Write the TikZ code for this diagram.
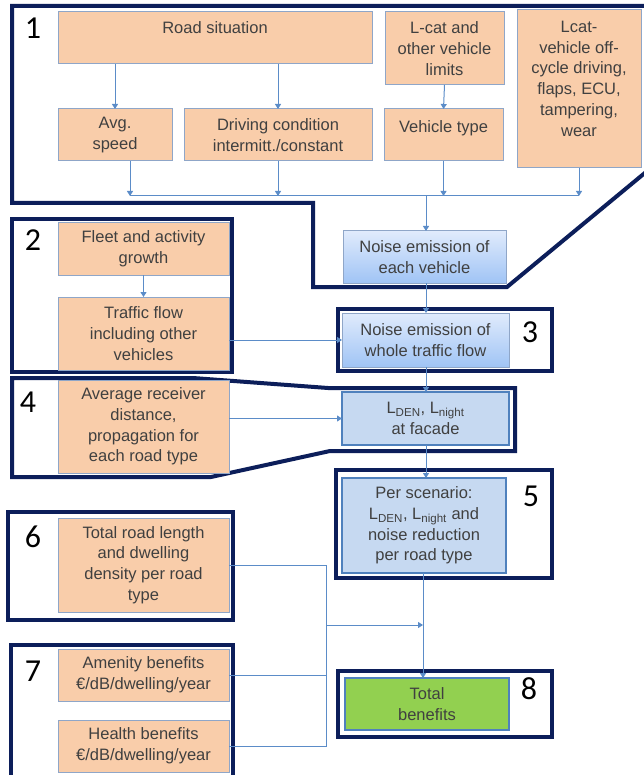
\documentclass[tikz,border=0pt]{standalone}
\usepackage{fontspec}
\setmainfont{Liberation Sans}
\newfontfamily\numfont{Carlito}
\usetikzlibrary{arrows.meta,calc}
\definecolor{ofill}{RGB}{249,205,170}
\definecolor{oborder}{RGB}{143,166,200}
\definecolor{tgray}{RGB}{64,64,64}
\definecolor{navy}{RGB}{12,30,90}
\definecolor{arrc}{RGB}{91,140,200}
\definecolor{btop}{RGB}{224,235,252}
\definecolor{bbot}{RGB}{160,196,245}
\definecolor{lblue}{RGB}{198,217,241}
\definecolor{mblue}{RGB}{79,129,189}
\definecolor{gfill}{RGB}{146,208,80}
\newcommand\bxfont{\fontsize{16.5}{20.7}\selectfont}
\newcommand\nfont{\numfont\fontsize{32}{32}\selectfont}
\begin{document}
\begin{tikzpicture}[x=1pt,y=-1pt,
  obox/.style={draw=oborder, fill=ofill, line width=1pt, inner sep=0pt, outer sep=0pt, align=center, text=tgray, font=\bxfont},
  gbox/.style={draw=oborder, top color=btop, bottom color=bbot, line width=1pt, inner sep=0pt, outer sep=0pt, align=center, text=tgray, font=\bxfont},
  lbox/.style={draw=mblue, fill=lblue, line width=2.5pt, inner sep=0pt, outer sep=0pt, align=center, text=tgray, font=\bxfont},
  grbox/.style={draw=mblue, fill=gfill, line width=2.5pt, inner sep=0pt, outer sep=0pt, align=center, text=tgray, font=\bxfont},
  txt/.style={inner sep=0pt, align=center, text=tgray, font=\bxfont},
  frame/.style={draw=navy, line width=4pt, line join=miter},
  num/.style={inner sep=0pt, font=\nfont, text=black},
  conn/.style={draw=arrc, line width=1pt},
  arr/.style={conn, -{Triangle[width=6pt,length=5pt]}}
]
\useasboundingbox (0,0) rectangle (644,775);
\fill[white] (0,0) rectangle (644,775);

% frames
\draw[frame] (12,6) -- (646,6) -- (646,172) -- (507,287) -- (313,287) -- (313,203) -- (12,203) -- cycle;
\draw[frame] (12,219) rectangle (232,372);
\draw[frame] (338,309) rectangle (552,371);
\draw[frame] (12,378) -- (193,378) -- (328,388) -- (515,388) -- (515,451) -- (330,451) -- (211,477) -- (12,477) -- cycle;
\draw[frame] (336,470) rectangle (552,578);
\draw[frame] (8,512) rectangle (233,620);
\draw[frame] (11,645) rectangle (233,790);
\draw[frame] (338,671) rectangle (552,737);

% numbers
\node[num] (n1) at (33,28) {1};
\node[num] (n2) at (33,240) {2};
\node[num] (n3) at (530,332) {3};
\node[num] (n4) at (28,402) {4};
\node[num] (n5) at (531,496) {5};
\node[num] (n6) at (33,537) {6};
\node[num] (n7) at (33,671) {7};
\node[num] (n8) at (529,689) {8};

% boxes of part 1
\node[obox, minimum width=314, minimum height=52] (rs) at (215,38) {};
\node[txt, anchor=north] (rst) at (215,21) {Road situation};
\node[obox, minimum width=119, minimum height=73] (lc) at (444.5,48.5) {L-cat and\\other vehicle\\limits};
\node[obox, minimum width=124, minimum height=158] (lo) at (579,89) {};
\node[txt, anchor=north] (lot) at (579,21) {Lcat-\\vehicle off-\\cycle driving,\\flaps, ECU,\\tampering,\\wear};
\node[obox, minimum width=114, minimum height=52] (avg) at (115,135) {Avg.\\speed};
\node[obox, minimum width=188, minimum height=52] (drv) at (278,135) {Driving condition\\intermitt./constant};
\node[obox, minimum width=119, minimum height=52] (vt) at (443.5,135) {};
\node[txt, anchor=north] (vtt) at (443.5,120) {Vehicle type};
\node[gbox, minimum width=163, minimum height=52] (nev) at (424.5,257) {Noise emission of\\each vehicle};

% part 2
\node[obox, minimum width=171, minimum height=52] (fl) at (143.5,249) {Fleet and activity\\growth};
\node[obox, minimum width=171, minimum height=73] (tf) at (143.5,333.5) {Traffic flow\\including other\\vehicles};
\node[gbox, minimum width=167, minimum height=54] (ntf) at (425.5,340) {Noise emission of\\whole traffic flow};

% part 4
\node[obox, minimum width=171, minimum height=93] (ard) at (143.5,426.5) {Average receiver\\distance,\\propagation for\\each road type};
\node[lbox, minimum width=167, minimum height=53] (ld) at (425.5,418.5) {L\textsubscript{DEN}, L\textsubscript{night}\\at facade};

% part 5
\node[lbox, minimum width=164, minimum height=95] (ps) at (424,525.5) {Per scenario:\\L\textsubscript{DEN}, L\textsubscript{night} and\\noise reduction\\per road type};

% part 6, 7
\node[obox, minimum width=171, minimum height=94] (trl) at (143.5,565) {Total road length\\and dwelling\\density per road\\type};
\node[obox, minimum width=171, minimum height=52] (am) at (143.5,675) {Amenity benefits\\€/dB/dwelling/year};
\node[obox, minimum width=171, minimum height=52] (hb) at (143.5,746) {Health benefits\\€/dB/dwelling/year};

% part 8
\node[grbox, minimum width=164, minimum height=52] (tb) at (427,704) {Total\\benefits};

% connectors part 1
\draw[arr] (rs.south -| avg.north) -- (avg.north);
\draw[arr] (rs.south -| drv.north) -- (drv.north);
\draw[arr] (lc.south) -- (vt.north);
\coordinate (m1) at (130,196);
\coordinate (m4) at (579,196);
\coordinate (mc) at (426,196);
\draw[arr] (avg.south -| m1) -- (m1);
\draw[arr] (drv.south) -- (drv.south |- m1);
\draw[arr] (vt.south) -- (vt.south |- m1);
\draw[arr] (lo.south) -- (m4);
\draw[conn] (m1) -- (m4);
\draw[arr] (mc) -- (mc |- nev.north);

\draw[arr] (fl.south) -- (tf.north);
\draw[arr] (nev.south -| mc) -- (mc |- ntf.north);
\draw[arr] (tf.east |- ntf.west) -- (ntf.west);
\draw[arr] (ntf.south -| mc) -- (mc |- ld.north);
\draw[arr] (ard.east |- ld.west) -- (ld.west);
\draw[arr] (ld.south -| mc) -- (mc |- ps.north);

% lower merge
\coordinate (jx) at (326,625);
\coordinate (vx) at (423,625);
\draw[arr] (ps.south -| vx) -- (vx |- tb.north);
\draw[conn] (trl.east) -- (trl.east -| jx) -- (hb.east -| jx) -- (hb.east);
\draw[conn] (am.east) -- (am.east -| jx);
\draw[arr] (jx) -- (vx);
\end{tikzpicture}
\end{document}
